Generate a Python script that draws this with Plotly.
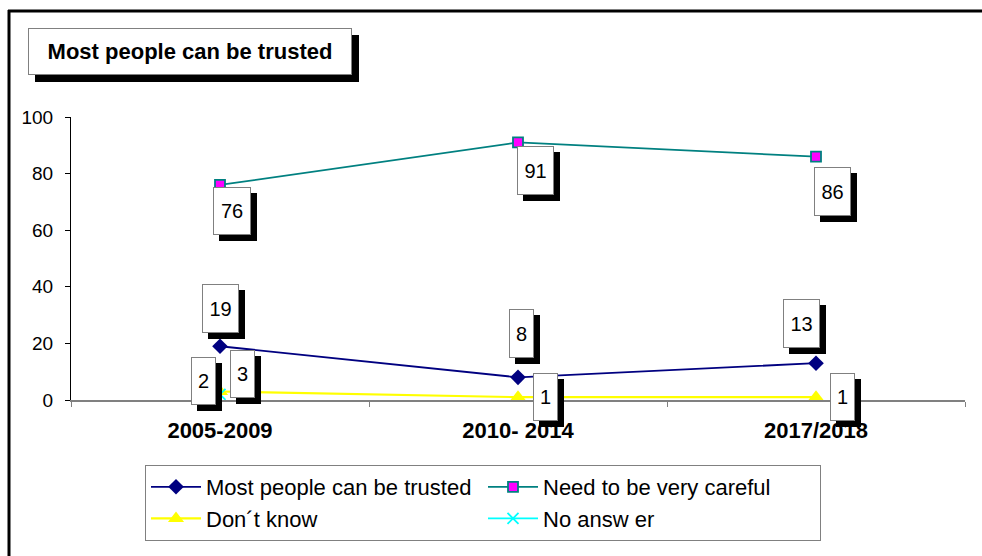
import plotly.graph_objects as go

# Survey waves and shares (%) of answers to "Most people can be trusted"
categories = ["2005-2009", "2010- 2014", "2017/2018"]
trusted = [19, 8, 13]
careful = [76, 91, 86]
dont_know = [3, 1, 1]
no_answer = [2, None, None]

series_names = ["Most people can be trusted", "Need to be very careful",
                "Don\u00b4t know", "No answ er"]

W, H = 982, 556
ML, MR, MT, MB = 71, 17, 117, 156
PW, PH = W - ML - MR, H - MT - MB
FONT = "Liberation Sans, Arial, sans-serif"


def px_x(x):
    return (x - ML) / PW


def px_y(y):
    return (H - MB - y) / PH


fig = go.Figure()

fig.add_trace(go.Scatter(
    x=categories, y=trusted, name=series_names[0], mode="lines+markers",
    line=dict(color="#000080", width=1.8),
    marker=dict(symbol="diamond", size=12, color="#000080")))
fig.add_trace(go.Scatter(
    x=categories, y=careful, name=series_names[1], mode="lines+markers",
    line=dict(color="#008080", width=1.8),
    marker=dict(symbol="square", size=10, color="#FF00FF",
                line=dict(color="#008080", width=1.8))))
fig.add_trace(go.Scatter(
    x=categories, y=dont_know, name=series_names[2], mode="lines+markers",
    line=dict(color="#FFFF00", width=2.2),
    marker=dict(symbol="triangle-up", size=14, color="#FFFF00")))
fig.add_trace(go.Scatter(
    x=categories, y=no_answer, name=series_names[3], mode="lines+markers",
    line=dict(color="#00FFFF", width=1.8),
    marker=dict(symbol="x-thin-open", size=11, color="#00FFFF",
                line=dict(color="#00FFFF", width=1.8))))

# Boxed value labels: (series values, index, dx, dy, box width, box height)
label_specs = [
    (trusted, 0, 0, -38, 37, 49),
    (trusted, 1, 3, -44, 25, 49),
    (trusted, 2, -15, -40, 37, 49),
    (careful, 0, 12, 26, 38, 48),
    (careful, 1, 17, 28, 37, 49),
    (careful, 2, 16, 35, 37, 49),
    (dont_know, 0, 22, -18, 25, 48),
    (dont_know, 1, 27, 0, 25, 48),
    (dont_know, 2, 26, 0, 25, 48),
    (no_answer, 0, -17, -13, 25, 48),
]
SH = 6
annotations = []
for vals, i, dx, dy, bw, bh in label_specs:
    common = dict(x=categories[i], y=vals[i], xref="x", yref="y",
                  showarrow=False, width=bw - 2, height=bh - 2,
                  borderpad=0, borderwidth=1)
    annotations.append(dict(common, text="", bgcolor="black",
                            bordercolor="black",
                            xshift=dx + SH, yshift=-(dy + SH)))
for vals, i, dx, dy, bw, bh in label_specs:
    annotations.append(dict(x=categories[i], y=vals[i], xref="x", yref="y",
                            showarrow=False, width=bw - 2, height=bh - 2,
                            borderpad=0, borderwidth=1,
                            text=str(vals[i]), bgcolor="white",
                            bordercolor="#808080",
                            font=dict(family=FONT, size=20, color="black"),
                            xshift=dx, yshift=-dy))

# Title box with drop shadow
tx0, ty0, tx1, ty1 = 28, 28, 352, 75
for off, bg, bc, txt in [(7, "black", "black", ""),
                         (0, "white", "#808080",
                          "<b>Most people can be trusted</b>")]:
    annotations.append(dict(
        x=px_x((tx0 + tx1) / 2 + off), y=px_y((ty0 + ty1) / 2 + off),
        xref="paper", yref="paper", xanchor="center", yanchor="middle",
        showarrow=False, width=tx1 - tx0 - 2, height=ty1 - ty0 - 2,
        borderpad=0, borderwidth=1, bgcolor=bg, bordercolor=bc, text=txt,
        font=dict(family=FONT, size=22, color="black")))

# Outer chart frame (left and top edges)
shapes = [
    dict(type="line", xref="paper", yref="paper",
         x0=px_x(9), x1=px_x(9), y0=px_y(10), y1=px_y(H + 10),
         line=dict(color="black", width=3)),
    dict(type="line", xref="paper", yref="paper",
         x0=px_x(8), x1=px_x(W + 10), y0=px_y(11), y1=px_y(11),
         line=dict(color="black", width=3)),
]

fig.update_layout(
    width=W, height=H,
    margin=dict(l=ML, r=MR, t=MT, b=MB),
    paper_bgcolor="white", plot_bgcolor="white",
    font=dict(family=FONT, size=19, color="black"),
    showlegend=True,
    legend=dict(orientation="h", x=px_x(145), y=px_y(465),
                xanchor="left", yanchor="top",
                bgcolor="white", bordercolor="#808080", borderwidth=1,
                entrywidth=272, entrywidthmode="pixels", itemwidth=50,
                font=dict(family=FONT, size=22, color="black")),
    annotations=annotations,
    shapes=shapes,
    xaxis=dict(type="category", range=[-0.5, 2.5], showgrid=False,
               zeroline=False, showline=True, linecolor="#808080",
               linewidth=2, ticks="outside", ticklen=5, tickcolor="#808080",
               tickson="boundaries", ticklabelstandoff=10,
               tickfont=dict(family=FONT, size=22, color="black", weight="bold")),
    yaxis=dict(range=[0, 100], tickvals=[0, 20, 40, 60, 80, 100],
               showgrid=False, zeroline=False, showline=True,
               linecolor="black", linewidth=1, ticks="outside", ticklen=5,
               tickcolor="black", ticklabelstandoff=8,
               tickfont=dict(family=FONT, size=19, color="black")),
)

fig.write_html("out.html")
